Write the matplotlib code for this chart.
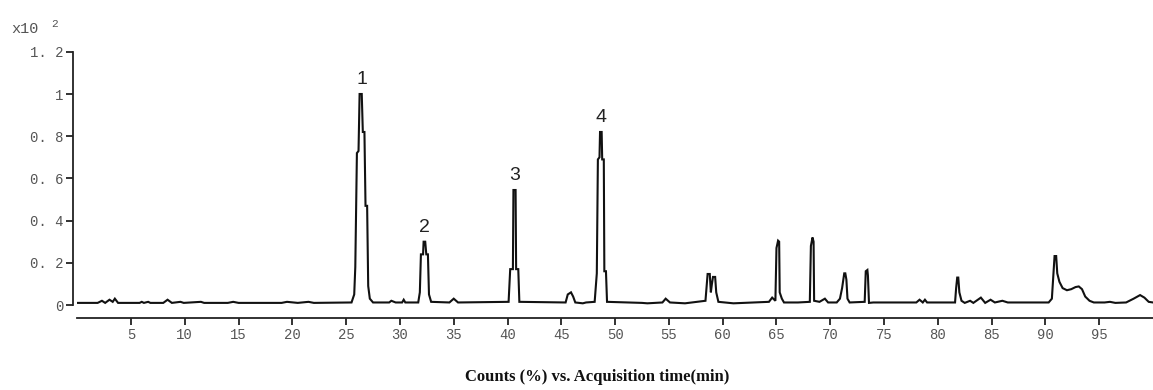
import matplotlib
matplotlib.use("Agg")
import matplotlib.pyplot as plt

# ---- data (time in min, counts x10^2) ----
time_min = [
    0.0, 1.9, 2.3, 2.6, 3.0, 3.3, 3.5, 3.8, 5.8, 6.0, 6.2, 6.6, 6.8, 8.0, 8.4, 8.8,
    9.6, 9.9, 11.5, 11.8, 14.0, 14.5, 15.0, 19.0, 19.5, 20.5, 21.5, 22.0, 25.5,
    25.75, 25.85, 26.0, 26.15, 26.25, 26.45, 26.55, 26.7, 26.8, 26.95, 27.05, 27.2, 27.5,
    29.0, 29.2, 29.6, 30.2, 30.35, 30.5,
    31.7, 31.85, 31.95, 32.15, 32.2, 32.35, 32.45, 32.6, 32.7, 32.9,
    34.6, 35.0, 35.4,
    40.1, 40.25, 40.5, 40.55, 40.75, 40.8, 41.0, 41.1,
    45.4, 45.6, 45.9, 46.1, 46.3, 47.0, 47.3,
    48.1, 48.3, 48.4, 48.55, 48.6, 48.75, 48.8, 48.95, 49.0, 49.15, 49.25,
    52.5, 53.0, 54.4, 54.7, 55.1, 56.5,
    58.4, 58.6, 58.8, 58.9, 59.0, 59.1, 59.3, 59.4, 59.6, 61.0,
    64.3, 64.6, 64.9, 65.0, 65.15, 65.25, 65.3, 65.5, 65.7, 67.0,
    68.1, 68.2, 68.35, 68.45, 68.5, 69.0, 69.5, 69.8,
    70.6, 70.9, 71.1, 71.3, 71.4, 71.5, 71.6, 71.8,
    73.2, 73.3, 73.45, 73.5, 73.6, 74.0,
    78.0, 78.3, 78.6, 78.8, 79.0,
    81.6, 81.7, 81.8, 81.9, 82.0, 82.2, 82.5, 83.0, 83.3, 84.0, 84.4, 84.9, 85.3,
    86.0, 86.5,
    90.3, 90.6, 90.75, 90.85, 91.0, 91.1, 91.3, 91.6, 92.0, 92.4, 92.8, 93.1, 93.4,
    93.7, 94.1, 94.5, 95.5, 96.0, 96.5, 97.5, 98.2, 98.8, 99.2, 99.6, 100.0,
]
counts = [
    0.010, 0.010, 0.020, 0.010, 0.025, 0.015, 0.030, 0.010, 0.010, 0.015, 0.010, 0.015, 0.010, 0.010, 0.025, 0.010,
    0.015, 0.010, 0.015, 0.010, 0.010, 0.015, 0.010, 0.010, 0.015, 0.010, 0.015, 0.010, 0.012,
    0.050, 0.180, 0.720, 0.730, 1.000, 1.000, 0.820, 0.820, 0.470, 0.470, 0.090, 0.030, 0.012,
    0.012, 0.020, 0.012, 0.012, 0.025, 0.012,
    0.012, 0.060, 0.240, 0.240, 0.300, 0.300, 0.240, 0.240, 0.050, 0.015,
    0.012, 0.030, 0.012,
    0.015, 0.170, 0.170, 0.545, 0.545, 0.170, 0.170, 0.015,
    0.012, 0.050, 0.060, 0.040, 0.012, 0.008, 0.012,
    0.015, 0.150, 0.690, 0.700, 0.820, 0.820, 0.690, 0.690, 0.160, 0.160, 0.015,
    0.010, 0.008, 0.012, 0.030, 0.012, 0.008,
    0.020, 0.147, 0.147, 0.060, 0.100, 0.133, 0.133, 0.060, 0.015, 0.008,
    0.015, 0.035, 0.020, 0.270, 0.305, 0.300, 0.060, 0.030, 0.012, 0.012,
    0.015, 0.280, 0.320, 0.300, 0.020, 0.015, 0.030, 0.012,
    0.012, 0.030, 0.080, 0.150, 0.150, 0.120, 0.030, 0.012,
    0.015, 0.160, 0.166, 0.140, 0.010, 0.012,
    0.012, 0.025, 0.012, 0.025, 0.012,
    0.012, 0.080, 0.130, 0.130, 0.060, 0.020, 0.010, 0.020, 0.010, 0.035, 0.010, 0.025, 0.012,
    0.020, 0.012,
    0.012, 0.030, 0.150, 0.232, 0.232, 0.150, 0.110, 0.080, 0.070, 0.075, 0.085, 0.088, 0.075,
    0.040, 0.020, 0.012, 0.012, 0.015, 0.010, 0.012, 0.030, 0.047, 0.035, 0.015, 0.012,
]

peak_labels = ["1", "2", "3", "4"]
peak_times = [26.45, 32.3, 40.65, 48.68]
peak_heights = [1.0, 0.30, 0.545, 0.82]

x_ticks = [5, 10, 15, 20, 25, 30, 35, 40, 45, 50, 55, 60, 65, 70, 75, 80, 85, 90, 95]
y_ticks = [0, 0.2, 0.4, 0.6, 0.8, 1.0, 1.2]
y_tick_labels = ["0", "0. 2", "0. 4", "0. 6", "0. 8", "1", "1. 2"]
x_title = "Counts (%) vs. Acquisition time(min)"

# ---- figure ----
W, H = 1153, 390
fig = plt.figure(figsize=(W / 100, H / 100), dpi=100)
left = 77.2 / W
bottom = 72 / H
top = (H - 41.25) / H
ax = fig.add_axes([left, bottom, 1 - left, top - bottom])

ax.plot(time_min, counts, color="#111111", lw=1.5, solid_joinstyle="miter")
ax.set_xlim(0, 100)
ax.set_ylim(-0.0616, 1.25)

for s in ("top", "right"):
    ax.spines[s].set_visible(False)
ax.spines["left"].set_position(("data", -0.4))
ax.spines["left"].set_bounds(0, 1.2)
ax.spines["bottom"].set_bounds(0, 100)
for s in ("left", "bottom"):
    ax.spines[s].set_linewidth(1.3)
    ax.spines[s].set_color("#222222")

mono = "Liberation Mono"
ax.set_xticks(x_ticks)
ax.set_xticklabels([str(v) for v in x_ticks], family=mono, fontsize=10, color="#555555")
ax.set_yticks(y_ticks)
ax.set_yticklabels(y_tick_labels, family=mono, fontsize=10, color="#555555")
ax.tick_params(axis="both", direction="out", length=5, width=1.3, color="#222222", pad=2)

for lab, t, h in zip(peak_labels, peak_times, peak_heights):
    ax.annotate(lab, (t, h), xytext=(0, 4), textcoords="offset points",
                ha="center", va="bottom", fontsize=14, family="Liberation Sans",
                color="#222222")

fig.text(11 / W, 1 - 33 / H, "x10", family=mono, fontsize=11, color="#555555",
         ha="left", va="baseline")
fig.text(51 / W, 1 - 27 / H, "2", family=mono, fontsize=8, color="#555555",
         ha="left", va="baseline")

fig.text(597 / W, 1 - 377 / H, x_title, family="Liberation Serif", fontweight="bold",
         fontsize=12, color="#111111", ha="center", va="center")

fig.savefig("out.png", dpi=100)
